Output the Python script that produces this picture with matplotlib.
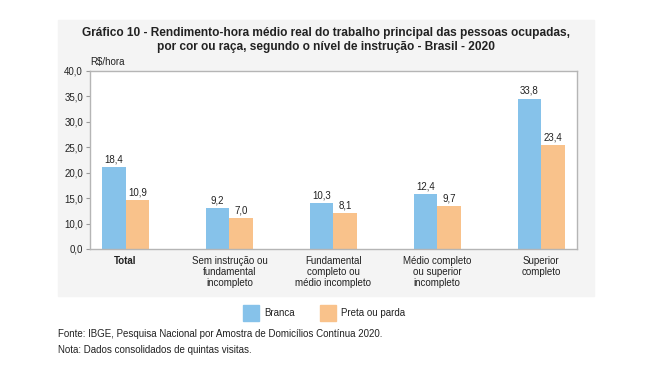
import matplotlib.pyplot as plt
from matplotlib.patches import Rectangle
import numpy as np

# data
categorias = ['Total', 'Sem instrução ou\nfundamental\nincompleto',
              'Fundamental\ncompleto ou\nmédio incompleto',
              'Médio completo\nou superior\nincompleto', 'Superior\ncompleto']
branca = [18.4, 9.2, 10.3, 12.4, 33.8]
preta = [10.9, 7.0, 8.1, 9.7, 23.4]
# tick labels as printed in the original (evenly spaced, "5,0" missing)
ytick_labels = ['0,0', '10,0', '15,0', '20,0', '25,0', '30,0', '35,0', '40,0']

cor_branca = '#86c2ea'
cor_preta = '#f9c28b'

plt.rcParams['font.family'] = ['Liberation Sans', 'DejaVu Sans']

W, H = 667, 373
fig = plt.figure(figsize=(W / 100, H / 100), dpi=100)

# grey panel behind the chart
fig.add_artist(Rectangle((58 / W, 1 - 296 / H), (594 - 58) / W, (296 - 20) / H,
                         transform=fig.transFigure, color='#f4f4f4', zorder=-5))

ax = fig.add_axes([90 / W, 1 - 249 / H, (577 - 90) / W, (249 - 71) / H])
ax.set_facecolor('white')

x = np.arange(len(categorias))
w = 0.226
b1 = ax.bar(x - w / 2, branca, w, color=cor_branca)
b2 = ax.bar(x + w / 2, preta, w, color=cor_preta)

for bars, vals in ((b1, branca), (b2, preta)):
    for r, v in zip(bars, vals):
        ax.annotate(f'{v:.1f}'.replace('.', ','), (r.get_x() + r.get_width() / 2, v),
                    xytext=(0, 2), textcoords='offset points', ha='center', va='bottom',
                    fontsize=7, color='#222222')

ax.set_xlim(-0.343, 4.346)
ax.set_ylim(0, 40)
ax.set_yticks(np.linspace(0, 40, 8))
ax.set_yticklabels(ytick_labels, fontsize=7, color='#222222')
ax.set_xticks(x)
ax.set_xticklabels(categorias, fontsize=7, color='#222222', linespacing=1.15, va='top')
ax.get_xticklabels()[0].set_fontweight('bold')
ax.tick_params(axis='y', length=3, color='#999999', pad=2)
ax.tick_params(axis='x', length=0, pad=5)
for s in ax.spines.values():
    s.set_color('#b5b5b5')
    s.set_linewidth(1)

ax.text(0, 1.02, 'R$/hora', transform=ax.transAxes, fontsize=7, color='#222222',
        ha='left', va='bottom')

fig.text(326 / W, 1 - 40 / H,
         'Gráfico 10 - Rendimento-hora médio real do trabalho principal das pessoas ocupadas,\n'
         'por cor ou raça, segundo o nível de instrução - Brasil - 2020',
         ha='center', va='center', fontsize=8.6, fontweight='bold', linespacing=1.25,
         color='#222222')

# legend
for x0, cor, lab in ((243, cor_branca, 'Branca'), (320, cor_preta, 'Preta ou parda')):
    fig.add_artist(Rectangle((x0 / W, 1 - 321 / H), 16 / W, 16 / H,
                             transform=fig.transFigure, color=cor))
    fig.text((x0 + 21) / W, 1 - 313 / H, lab, fontsize=7, va='center', color='#222222')

fig.text(58 / W, 1 - 334 / H,
         'Fonte: IBGE, Pesquisa Nacional por Amostra de Domicílios Contínua 2020.',
         fontsize=7, va='center', color='#222222')
fig.text(58 / W, 1 - 350 / H, 'Nota: Dados consolidados de quintas visitas.',
         fontsize=7, va='center', color='#222222')

fig.savefig('out.png', dpi=100, facecolor='white')
